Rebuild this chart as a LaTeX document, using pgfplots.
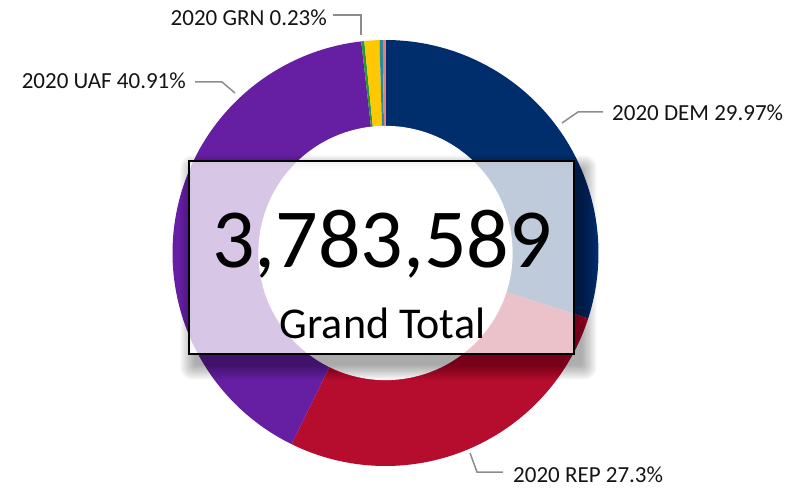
\documentclass[border=0pt]{standalone}
\usepackage{pgfplots}
\pgfplotsset{compat=1.18}
\usepackage{fontspec}
\setmainfont{Carlito}
\definecolor{dem}{RGB}{0,45,108}
\definecolor{rep}{RGB}{182,12,46}
\definecolor{uaf}{RGB}{102,30,162}
\definecolor{grn}{RGB}{40,150,60}
\definecolor{lbt}{RGB}{255,200,0}
\definecolor{oth}{RGB}{40,140,160}
\definecolor{oth2}{RGB}{235,120,120}
\definecolor{lead}{RGB}{140,140,140}
\definecolor{lbl}{RGB}{20,20,20}
% segment: start%, end%, colour
\newcommand{\seg}[3]{%
  \addplot[fill=#3, draw=none, domain=#1:#2, samples=120]
    ({cos(90-3.6*x)},{sin(90-3.6*x)}) -- (axis cs:0,0) -- cycle;}
\begin{document}
\begin{tikzpicture}[x=1pt,y=1pt]
\useasboundingbox (0,0) rectangle (790,488);
\begin{axis}[
  at={(385.5pt,235pt)}, anchor=center,
  scale only axis, width=426pt, height=426pt,
  xmin=-1, xmax=1, ymin=-1, ymax=1,
  axis lines=none, clip=false]
% values (percent): DEM 29.97, REP 27.30, UAF 40.91, GRN 0.23, other 1.14, 0.25, 0.20
\seg{0}{29.97}{dem}
\seg{29.97}{57.27}{rep}
\seg{57.27}{98.18}{uaf}
\seg{98.18}{98.41}{grn}
\seg{98.41}{99.55}{lbt}
\seg{99.55}{99.80}{oth}
\seg{99.80}{100}{oth2}
\addplot[fill=white, draw=none, domain=0:360, samples=180]
  ({0.597*cos(x)},{0.597*sin(x)}) -- cycle;
\end{axis}
% shadow
\foreach \i in {1,...,12}{
  \fill[black, opacity=0.03, even odd rule, rounded corners=\i pt]
    ({189+7-\i*1.3},{134-10-\i*1.3}) rectangle ({574+7+\i*1.3},{327-10+\i*1.3})
    [sharp corners] (189,134) rectangle (574,327);
}
% box
\fill[white, opacity=0.75] (189,134) rectangle (574,327);
\draw[black, line width=1.6pt] (189,134) rectangle (574,327);
\node[anchor=base, inner sep=0, font=\fontsize{84}{84}\selectfont] at (382,221) {3,783,589};
\node[anchor=base, inner sep=0, font=\fontsize{44}{44}\selectfont] at (382.5,150) {Grand Total};
% leader lines
\draw[lead, line width=1.5pt] (562,365) -- (578,376) -- (603,376);
\draw[lead, line width=1.5pt] (195,406) -- (222,406) -- (235,395);
\draw[lead, line width=1.5pt] (333,473) -- (361,473) -- (361,453);
\draw[lead, line width=1.5pt] (470,35) -- (477,16) -- (503,16);
% labels
\begin{scope}[every node/.style={inner sep=0, text=lbl, font=\fontsize{23}{23}\selectfont}]
\node[anchor=west] at (612,375.5) {2020 DEM 29.97\%};
\node[anchor=east] at (186,407.5) {2020 UAF 40.91\%};
\node[anchor=east] at (327,470.5) {2020 GRN 0.23\%};
\node[anchor=west] at (513,13.5) {2020 REP 27.3\%};
\end{scope}
\end{tikzpicture}
\end{document}
